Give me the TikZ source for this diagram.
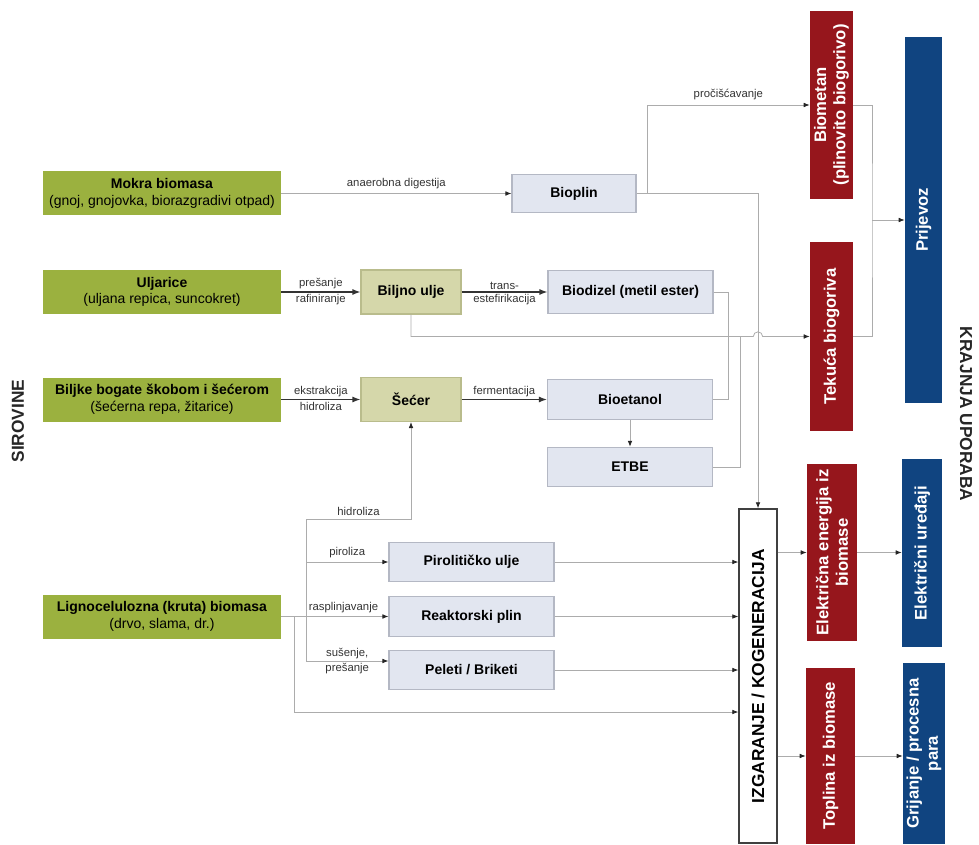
\documentclass[tikz,border=0pt]{standalone}
\usepackage{fontspec}
\setmainfont{Liberation Sans}
\usetikzlibrary{arrows.meta,positioning}
\definecolor{srcgreen}{RGB}{155,177,63}
\definecolor{khaki}{RGB}{213,215,170}
\definecolor{khakiline}{RGB}{185,188,140}
\definecolor{prodblue}{RGB}{226,230,240}
\definecolor{prodline}{RGB}{180,184,196}
\definecolor{usered}{RGB}{150,22,28}
\definecolor{endblue}{RGB}{16,68,128}
\definecolor{linegray}{RGB}{172,172,172}

\begin{document}
\begin{tikzpicture}[x=0.75pt, y=-0.75pt,
    boxbase/.style={inner sep=1pt, align=center, font=\fontsize{10.5}{12.5}\selectfont},
    source/.style={boxbase, fill=srcgreen, minimum width=178.5pt, minimum height=33pt},
    interm/.style={boxbase, fill=khaki, draw=khakiline, line width=0.8pt, minimum width=75pt, minimum height=33pt, font=\fontsize{10.5}{12.5}\selectfont\bfseries},
    product/.style={boxbase, fill=prodblue, draw=prodline, line width=0.8pt, minimum width=123.75pt, minimum height=29.5pt, font=\fontsize{10.5}{12.5}\selectfont\bfseries},
    combust/.style={boxbase, fill=white, draw=black!75, line width=1pt, rotate=90, minimum width=250.5pt, minimum height=28.5pt, font=\fontsize{13}{15}\selectfont\bfseries},
    fuel/.style={boxbase, fill=usered, text=white, rotate=90, font=\fontsize{12.5}{14.5}\selectfont\bfseries},
    enduse/.style={fuel, fill=endblue},
    sidelabel/.style={font=\fontsize{13}{15}\selectfont\bfseries, text=black!85},
    lbl/.style={font=\fontsize{8.5}{9.5}\selectfont, inner sep=1.5pt, text=black!80},
    link/.style={draw=linegray, line width=0.6pt},
    flow/.style={link, -{Latex[length=4.5pt,width=3.5pt,color=black!85]}},
    mainflow/.style={draw=black!80, line width=1pt, -{Latex[length=6pt,width=4.5pt]}}]
    \useasboundingbox (0,0) rectangle (979,845);
    % Raw materials
    \node[source] (mokra) at (162,193.5) {\textbf{Mokra biomasa}\\(gnoj, gnojovka, biorazgradivi otpad)};
    \node[source] (uljarice) at (162,292) {\textbf{Uljarice}\\(uljana repica, suncokret)};
    \node[source] (biljke) at (162,399.5) {\textbf{Biljke bogate škobom i šećerom}\\(šećerna repa, žitarice)};
    \node[source] (ligno) at (162,616.5) {\textbf{Lignocelulozna (kruta) biomasa}\\(drvo, slama, dr.)};
    \node[sidelabel, rotate=90] (sirovine) at (18,421) {SIROVINE};
    % Intermediate products
    \node[interm] (ulje) at (411,292) {Biljno ulje};
    \node[interm] (secer) at (411,399.5) {Šećer};
    % Biofuels
    \node[product, minimum width=93pt, minimum height=28.5pt] (bioplin) at (574,193.5) {Bioplin};
    \node[product, minimum height=32.25pt] (biodizel) at (630.5,292) {Biodizel (metil ester)};
    \node[product] (bioetanol) at (630,399.5) {Bioetanol};
    \node[product] (etbe) at (630,467) {ETBE};
    \node[product] (piro) at (471.5,562) {Pirolitičko ulje};
    \node[product] (reaktor) at (471.5,616.5) {Reaktorski plin};
    \node[product] (peleti) at (471.5,670) {Peleti / Briketi};
    % Combustion
    \node[combust] (izg) at (758,676) {IZGARANJE / KOGENERACIJA};
    % Energy carriers
    \node[fuel, minimum width=141pt, minimum height=32.25pt] (biometan) at (831.5,105) {Biometan\\(plinovito biogorivo)};
    \node[fuel, minimum width=141.75pt, minimum height=32.25pt] (tekuca) at (831.5,336.5) {Tekuća biogoriva};
    \node[fuel, minimum width=132.75pt, minimum height=37.5pt] (elektr) at (832,552.5) {Električna energija iz\\biomase};
    \node[fuel, minimum width=132pt, minimum height=36.75pt] (toplina) at (830.5,756) {Toplina iz biomase};
    % End use
    \node[enduse, minimum width=274.5pt, minimum height=27.75pt] (prijevoz) at (923.5,220) {Prijevoz};
    \node[enduse, minimum width=141pt, minimum height=30pt] (uredaji) at (922,553) {Električni uređaji};
    \node[enduse, minimum width=135.75pt, minimum height=31.5pt] (grijanje) at (924,753.5) {Grijanje / procesna\\para};
    \node[sidelabel, rotate=-90] (uporaba) at (966,414) {KRAJNJA UPORABA};
    % Junction points
    \coordinate (bsplit) at (647,193.5);
    \coordinate (dj) at (728,399.5);
    \coordinate (ej) at (740,336.5);
    \coordinate (pj) at (872,220);
    \coordinate (htop) at (306,519);
    \coordinate (hbot) at (306,661);
    \coordinate (lsplit) at (294,616.5);
    \coordinate (lbend) at (294,712);
    % Biogas route
    \draw[flow] (mokra.east) -- node[lbl, above=2pt] {anaerobna digestija} (bioplin.west);
    \draw[flow] (bioplin.east) -| (izg.east);
    \draw[flow] (bsplit) |- node[lbl, pos=0.75, above=2pt] {pročišćavanje} (biometan.north);
    % Oil and sugar routes
    \draw[mainflow] (uljarice.east) -- node[lbl, above] {prešanje} node[lbl, below] {rafiniranje} (ulje.west);
    \draw[mainflow] (ulje.east) -- node[lbl, above] {trans-} node[lbl, below] {estefirikacija} (biodizel.west);
    \draw[mainflow] (biljke.east) -- node[lbl, above] {ekstrakcija} node[lbl, below] {hidroliza} (secer.west);
    \draw[mainflow] (secer.east) -- node[lbl, above] {fermentacija} (bioetanol.west);
    \draw[flow] (bioetanol.south) -- (etbe.north);
    % Liquid biofuels
    \draw[flow] (ulje.south) |- (753.3,336.5) arc[start angle=180, end angle=0, radius=3.5pt] -- (tekuca.north);
    \draw[link] (biodizel.east) -| (dj) -- (bioetanol.east);
    \draw[link] (etbe.east) -| (ej);
    % Solid biomass routes
    \draw[link] (htop) -- (hbot);
    \draw[flow] (htop) -| node[lbl, pos=0.25, above=1pt] {hidroliza} (secer.south);
    \draw[flow] (htop |- piro.west) -- node[lbl, above=1pt] {piroliza} (piro.west);
    \draw[flow] (ligno.east) -- node[lbl, pos=0.58, above=1pt] {rasplinjavanje} (reaktor.west);
    \draw[flow] (hbot) -- node[lbl, above=0pt] {sušenje,} node[lbl, below=0pt] {prešanje} (hbot -| peleti.west);
    \draw[flow] (lsplit) -- (lbend) -- (lbend -| izg.north);
    \foreach \n in {piro,reaktor,peleti}
      \draw[flow] (\n.east) -- (\n.east -| izg.north);
    % Energy to end use
    \draw[link] (biometan.south) -| (pj) |- (tekuca.south);
    \draw[flow] (pj) -- (prijevoz.north);
    \draw[flow] (izg.south |- elektr.north) -- (elektr.north);
    \draw[flow] (izg.south |- toplina.north) -- (toplina.north);
    \draw[flow] (elektr.south) -- (elektr.south -| uredaji.north);
    \draw[flow] (toplina.south) -- (toplina.south -| grijanje.north);
\end{tikzpicture}
\end{document}
